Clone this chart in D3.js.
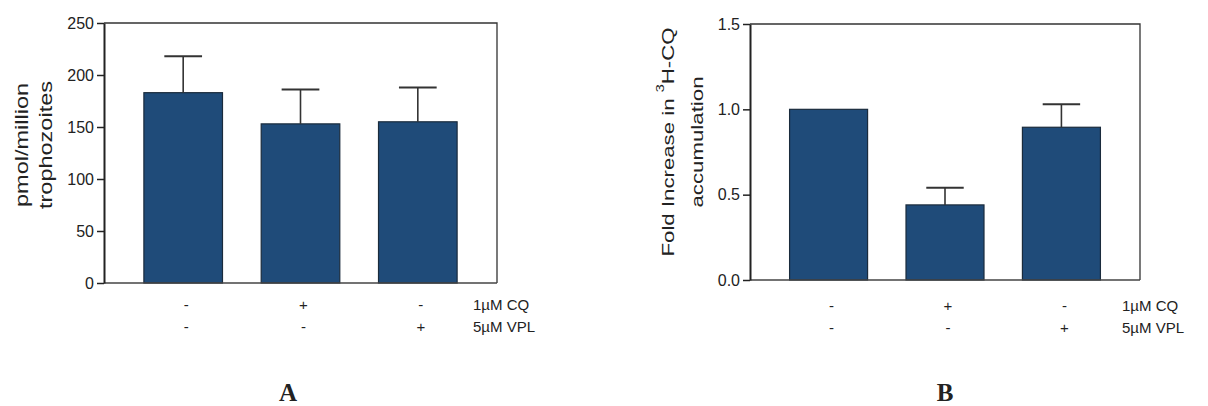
<!DOCTYPE html>
<html>
<head>
<meta charset="utf-8">
<script src="https://cdn.jsdelivr.net/npm/d3@7"></script>
<style>
  body { margin: 0; background: #fff; }
  svg { display: block; font-family: "Liberation Sans", Arial, sans-serif; }
</style>
</head>
<body>
<div id="chart"></div>
<script>
// treatment groups and the +/- rows shown under the bars
const groups = ["control", "cq", "cq_vpl"];
const cqRow = ["-", "+", "-"];
const vplRow = ["-", "-", "+"];
const rowLabels = ["1\u00b5M CQ", "5\u00b5M VPL"];

// panel A: 3H-CQ accumulation (pmol / million trophozoites)
const accumA = [183, 153, 155];
const errA = [35, 33, 33];
const ticksA = [0, 50, 100, 150, 200, 250];

// panel B: fold increase relative to control
const foldB = [1.0, 0.44, 0.895];
const errB = [0, 0.10, 0.135];
const ticksB = [0, 0.5, 1.0, 1.5];

const width = 1208, height = 406;
const barColor = "#1f4b79";

const svg = d3.select("#chart").append("svg")
  .attr("width", width)
  .attr("height", height);

function panel(opts) {
  const g = svg.append("g");
  const x = d3.scaleBand().domain(groups)
    .range([opts.left, opts.right])
    .paddingInner(0.33).paddingOuter(0.34);
  const y = d3.scaleLinear().domain(opts.domain).range([opts.bottom, opts.top]);
  const cx = i => x(groups[i]) + x.bandwidth() / 2;

  // frame: top and right edges
  g.append("path")
    .attr("d", `M${opts.left},${opts.top}H${opts.right}V${opts.bottom}`)
    .attr("fill", "none").attr("stroke", "#333").attr("stroke-width", 1.3);

  // bars
  g.selectAll("rect.bar").data(opts.values).join("rect")
    .attr("class", "bar")
    .attr("x", (d, i) => x(groups[i]))
    .attr("y", d => y(d))
    .attr("width", x.bandwidth())
    .attr("height", d => y(0) - y(d))
    .attr("fill", barColor)
    .attr("stroke", "#1a2b3c").attr("stroke-width", 1.2);

  // error bars (upper only), skipping zero-sized ones
  const capW = x.bandwidth() * 0.48;
  const errData = opts.values.map((v, i) => ({ i, v, e: opts.errors[i] })).filter(d => d.e > 0);
  const err = g.selectAll("g.err").data(errData).join("g").attr("class", "err");
  err.append("line")
    .attr("x1", d => cx(d.i)).attr("x2", d => cx(d.i))
    .attr("y1", d => y(d.v)).attr("y2", d => y(d.v + d.e))
    .attr("stroke", "#333").attr("stroke-width", 1.6);
  err.append("line")
    .attr("x1", d => cx(d.i) - capW / 2).attr("x2", d => cx(d.i) + capW / 2)
    .attr("y1", d => y(d.v + d.e)).attr("y2", d => y(d.v + d.e))
    .attr("stroke", "#333").attr("stroke-width", 2);

  // baseline
  g.append("line")
    .attr("x1", opts.left).attr("x2", opts.right)
    .attr("y1", y(0)).attr("y2", y(0))
    .attr("stroke", "#444").attr("stroke-width", 1.5);

  // y axis
  const yAxis = g.append("g")
    .attr("transform", `translate(${opts.left},0)`)
    .call(d3.axisLeft(y).tickValues(opts.ticks).tickFormat(opts.format).tickSize(7).tickSizeOuter(0).tickPadding(3));
  yAxis.select(".domain").attr("stroke", "#222").attr("stroke-width", 2);
  yAxis.selectAll(".tick line").attr("stroke", "#222").attr("stroke-width", 1.5);
  yAxis.selectAll(".tick text")
    .attr("font-size", 16).attr("fill", "#222")
    .attr("font-family", "'Liberation Sans', Arial, sans-serif");

  // y title, two lines
  opts.title.forEach((t, k) => {
    const tx = g.append("text")
      .attr("transform", `translate(${opts.titleX[k]},${opts.titleY}) rotate(-90)`)
      .attr("text-anchor", "middle")
      .attr("dominant-baseline", "central")
      .attr("font-size", opts.titleSize)
      .attr("fill", "#222")
      .attr("textLength", opts.titleLen[k])
      .attr("lengthAdjust", "spacingAndGlyphs");
    t.forEach(part => {
      const ts = tx.append("tspan").text(part.text);
      if (part.sup) ts.attr("font-size", opts.titleSize * 0.65).attr("dy", -8);
      if (part.after) ts.attr("dy", 8);
    });
  });

  // +/- rows and their labels
  [cqRow, vplRow].forEach((row, r) => {
    g.selectAll(null).data(row).join("text")
      .attr("x", (d, i) => cx(i) + 3)
      .attr("y", opts.rowY[r])
      .attr("text-anchor", "middle")
      .attr("font-size", 15).attr("fill", "#222")
      .text(d => d);
    g.append("text")
      .attr("x", opts.labelX).attr("y", opts.rowY[r])
      .attr("font-size", opts.labelSize).attr("fill", "#222")
      .text(rowLabels[r]);
  });

  // panel letter
  g.append("text")
    .attr("x", opts.letterX).attr("y", 401)
    .attr("text-anchor", "middle")
    .attr("font-family", "'Liberation Serif', 'Times New Roman', serif")
    .attr("font-weight", "bold")
    .attr("font-size", 25).attr("fill", "#222")
    .text(opts.letter);
}

panel({
  left: 104, right: 497, top: 23, bottom: 283,
  domain: [0, 250], ticks: ticksA, format: d3.format("d"),
  values: accumA, errors: errA,
  title: [[{ text: "pmol/million" }], [{ text: "trophozoites" }]],
  titleX: [21, 45], titleY: 145, titleSize: 19, titleLen: [124, 128],
  rowY: [310, 332], labelX: 473, labelSize: 15,
  letter: "A", letterX: 288
});

panel({
  left: 750, right: 1140, top: 24, bottom: 280,
  domain: [0, 1.5], ticks: ticksB, format: d3.format(".1f"),
  values: foldB, errors: errB,
  title: [[{ text: "Fold Increase in " }, { text: "3", sup: true }, { text: "H-CQ", after: true }], [{ text: "accumulation" }]],
  titleX: [668, 697], titleY: 142, titleSize: 17, titleLen: [229, 131],
  rowY: [311, 333], labelX: 1122, labelSize: 15,
  letter: "B", letterX: 945
});
</script>
</body>
</html>
